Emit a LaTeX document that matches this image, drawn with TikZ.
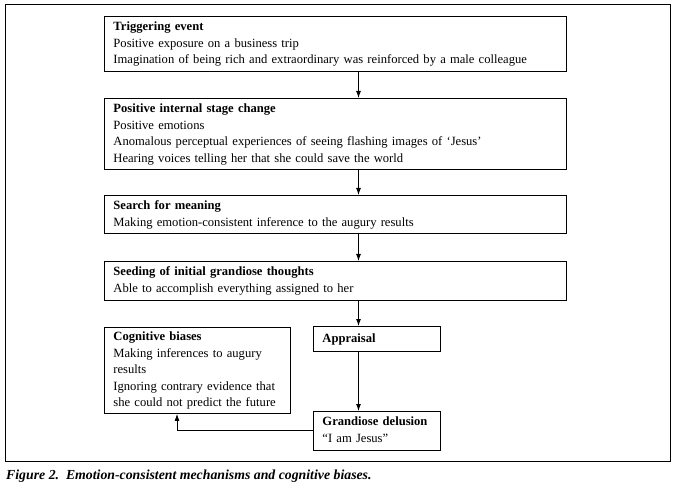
\documentclass[tikz,border=0pt]{standalone}
\usepackage{fontspec}
\setmainfont{Liberation Serif}
\usetikzlibrary{arrows.meta}
\hyphenpenalty=10000
\exhyphenpenalty=10000
\tikzset{
  stagebox/.style={draw, line width=0.9pt, anchor=north west, align=left,
    inner xsep=9pt, inner ysep=2.75pt, font=\fontsize{12.6}{16.5}\selectfont},
  flow/.style={line width=0.9pt, -{Latex[length=7pt,width=5pt]}}
}
\begin{document}
\begin{tikzpicture}[x=1pt,y=-1pt]
\useasboundingbox (0,0) rectangle (675,489);
\draw[line width=1pt] (5,4.5) rectangle (670,461.5);
\coordinate (sp) at (358.5,0);
\coordinate (ax) at (177,0);
\node[stagebox, text width=444pt] (t1) at (104,16) {\strut\textbf{Triggering event}\\\strut Positive exposure on a business trip\\\strut Imagination of being rich and extraordinary was reinforced by a male colleague};
\node[stagebox, text width=444pt] (t2) at (104,98) {\strut\textbf{Positive internal stage change}\\\strut Positive emotions\\\strut Anomalous perceptual experiences of seeing flashing images of ‘Jesus’\\\strut Hearing voices telling her that she could save the world};
\node[stagebox, text width=444pt] (t3) at (104,195) {\strut\textbf{Search for meaning}\\\strut Making emotion-consistent inference to the augury results};
\node[stagebox, text width=444pt] (t4) at (104,261) {\strut\textbf{Seeding of initial grandiose thoughts}\\\strut Able to accomplish everything assigned to her};
\node[stagebox, text width=109pt, inner ysep=4.25pt] (ap) at (313,326) {\strut\textbf{Appraisal}};
\node[stagebox, text width=109pt] (gd) at (313,411) {\strut\textbf{Grandiose delusion}\\\strut “I am Jesus”};
\node[stagebox, text width=168pt, inner ysep=1.75pt] (cb) at (104,327) {\strut\textbf{Cognitive biases}\\\strut Making inferences to augury\\\strut results\\\strut Ignoring contrary evidence that\\\strut she could not predict the future};
\draw[flow] (t1.south -| sp) -- (t2.north -| sp);
\draw[flow] (t2.south -| sp) -- (t3.north -| sp);
\draw[flow] (t3.south -| sp) -- (t4.north -| sp);
\draw[flow] (t4.south -| sp) -- (ap.north -| sp);
\draw[flow] (ap.south -| sp) -- (gd.north -| sp);
\draw[flow] (gd.west) -| (cb.south -| ax);
\node[anchor=base west, inner sep=0pt, font=\fontsize{13.8}{16}\selectfont\bfseries\itshape] (cap) at (6,479) {Figure 2.\ \ Emotion-consistent mechanisms and cognitive biases.};
\end{tikzpicture}
\end{document}
